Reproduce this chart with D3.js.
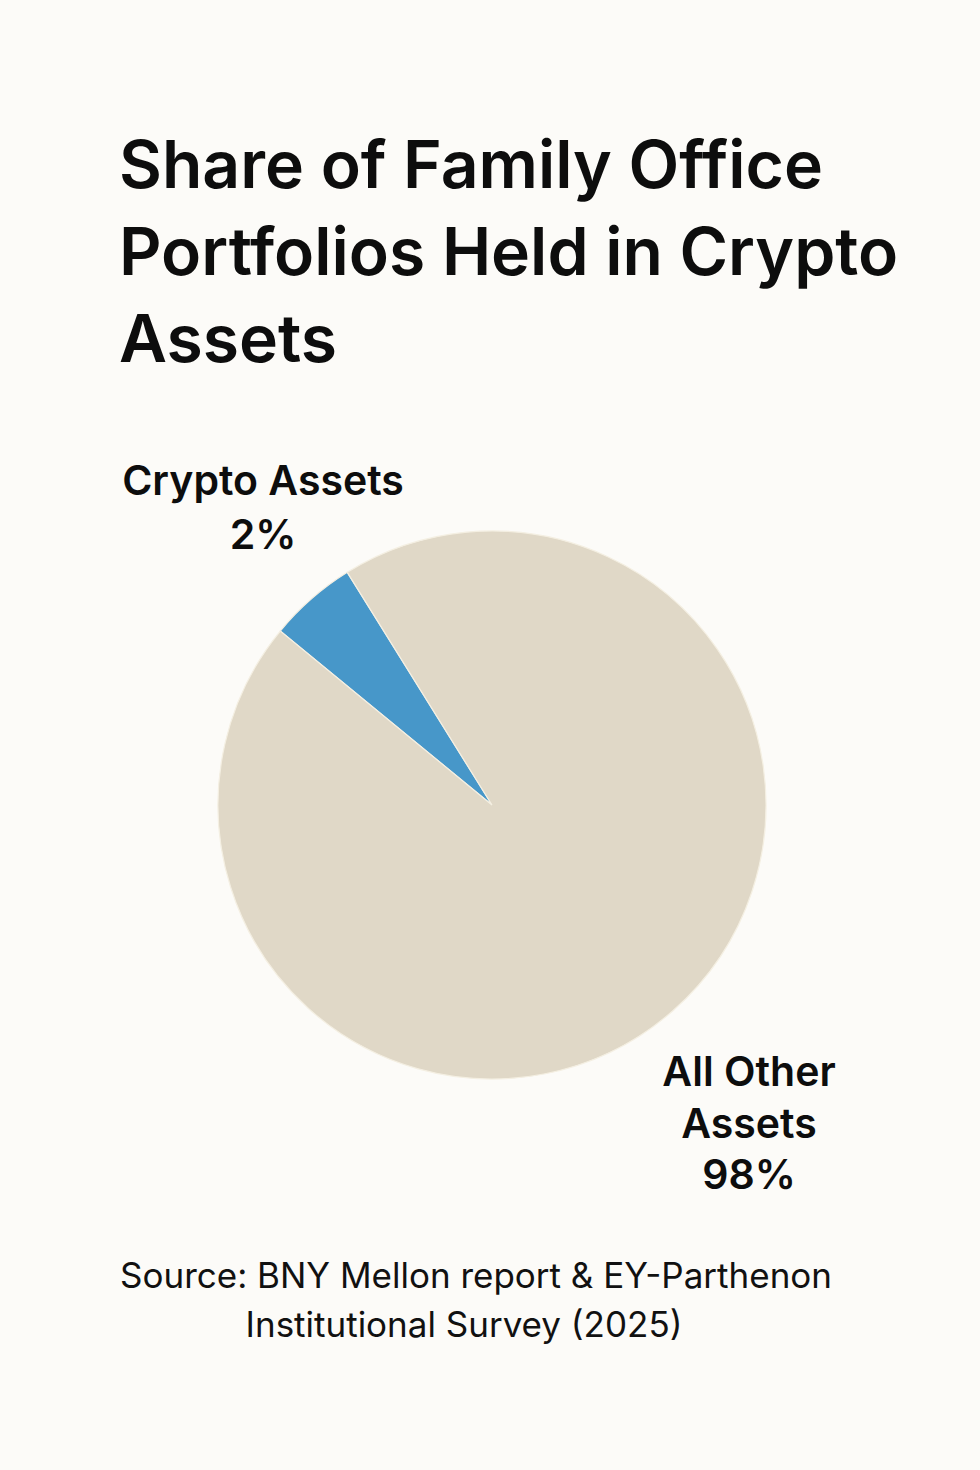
<!DOCTYPE html>
<html>
<head>
<meta charset="utf-8">
<script src="https://cdn.jsdelivr.net/npm/d3@7"></script>
<style>
    body { margin: 0; background: #fcfbf8; }
    svg { display: block; }
</style>
</head>
<body>
<div id="chart"></div>
<script>
// data
var categories = ["Crypto Assets", "All Other Assets"]
var shareLabels = ["2%", "98%"]
// slice sizes as drawn in the picture (percent of the circle)
var sliceShares = [5.2, 94.8]
var titleLines = ["Share of Family Office", "Portfolios Held in Crypto", "Assets"]
var sourceLines = ["Source: BNY Mellon report & EY-Parthenon", "Institutional Survey (2025)"]

var width = 980,
    height = 1470,
    cx = 492,
    cy = 805,
    radius = 274

var colors = d3.scaleOrdinal().domain(categories).range(["#4797c9", "#e0d8c7"])

var svg = d3.select("#chart").append("svg")
    .attr("width", width)
    .attr("height", height)

svg.append("rect")
    .attr("width", width)
    .attr("height", height)
    .attr("fill", "#fcfbf8")

// title
svg.append("g").selectAll("text")
    .data(titleLines)
    .enter().append("text")
    .attr("x", 119)
    .attr("y", function(d, i) { return 188 + i * 87 })
    .style("font-family", "Inter, 'Liberation Sans', sans-serif")
    .style("font-weight", 600)
    .style("font-size", "66px")
    .style("fill", "#0d0d0d")
    .text(function(d) { return d })

// pie
var pie = d3.pie()
    .sort(null)
    .startAngle(-50.6 * Math.PI / 180)
    .endAngle((360 - 50.6) * Math.PI / 180)
    .value(function(d, i) { return sliceShares[i] })

var arc = d3.arc().innerRadius(0).outerRadius(radius)

var pieG = svg.append("g")
    .attr("transform", "translate(" + cx + "," + cy + ")")

pieG.selectAll("path")
    .data(pie(categories))
    .enter().append("path")
    .attr("d", arc)
    .attr("fill", function(d) { return colors(d.data) })
    .attr("stroke", "#f4efe2")
    .attr("stroke-width", 1.2)

// slice labels
var labelFont = "Inter, 'Liberation Sans', sans-serif"

var cryptoLabel = svg.append("text")
    .attr("text-anchor", "middle")
    .style("font-family", labelFont)
    .style("font-weight", 600)
    .style("font-size", "41px")
    .style("fill", "#0d0d0d")
cryptoLabel.append("tspan").attr("x", 263).attr("y", 495).text(categories[0])
cryptoLabel.append("tspan").attr("x", 263).attr("y", 549).text(shareLabels[0])

var otherLabel = svg.append("text")
    .attr("text-anchor", "middle")
    .style("font-family", labelFont)
    .style("font-weight", 600)
    .style("font-size", "41px")
    .style("fill", "#0d0d0d")
var otherWords = categories[1].split(" ")
otherLabel.append("tspan").attr("x", 749).attr("y", 1086).text(otherWords[0] + " " + otherWords[1])
otherLabel.append("tspan").attr("x", 749).attr("y", 1138).text(otherWords[2])
otherLabel.append("tspan").attr("x", 749).attr("y", 1189).text(shareLabels[1])

// source
svg.append("g").selectAll("text")
    .data(sourceLines)
    .enter().append("text")
    .attr("text-anchor", "middle")
    .attr("x", function(d, i) { return i == 0 ? 476 : 464 })
    .attr("y", function(d, i) { return 1288 + i * 49 })
    .style("font-family", labelFont)
    .style("font-weight", 400)
    .style("font-size", "35px")
    .style("fill", "#111")
    .text(function(d) { return d })
</script>
</body>
</html>
